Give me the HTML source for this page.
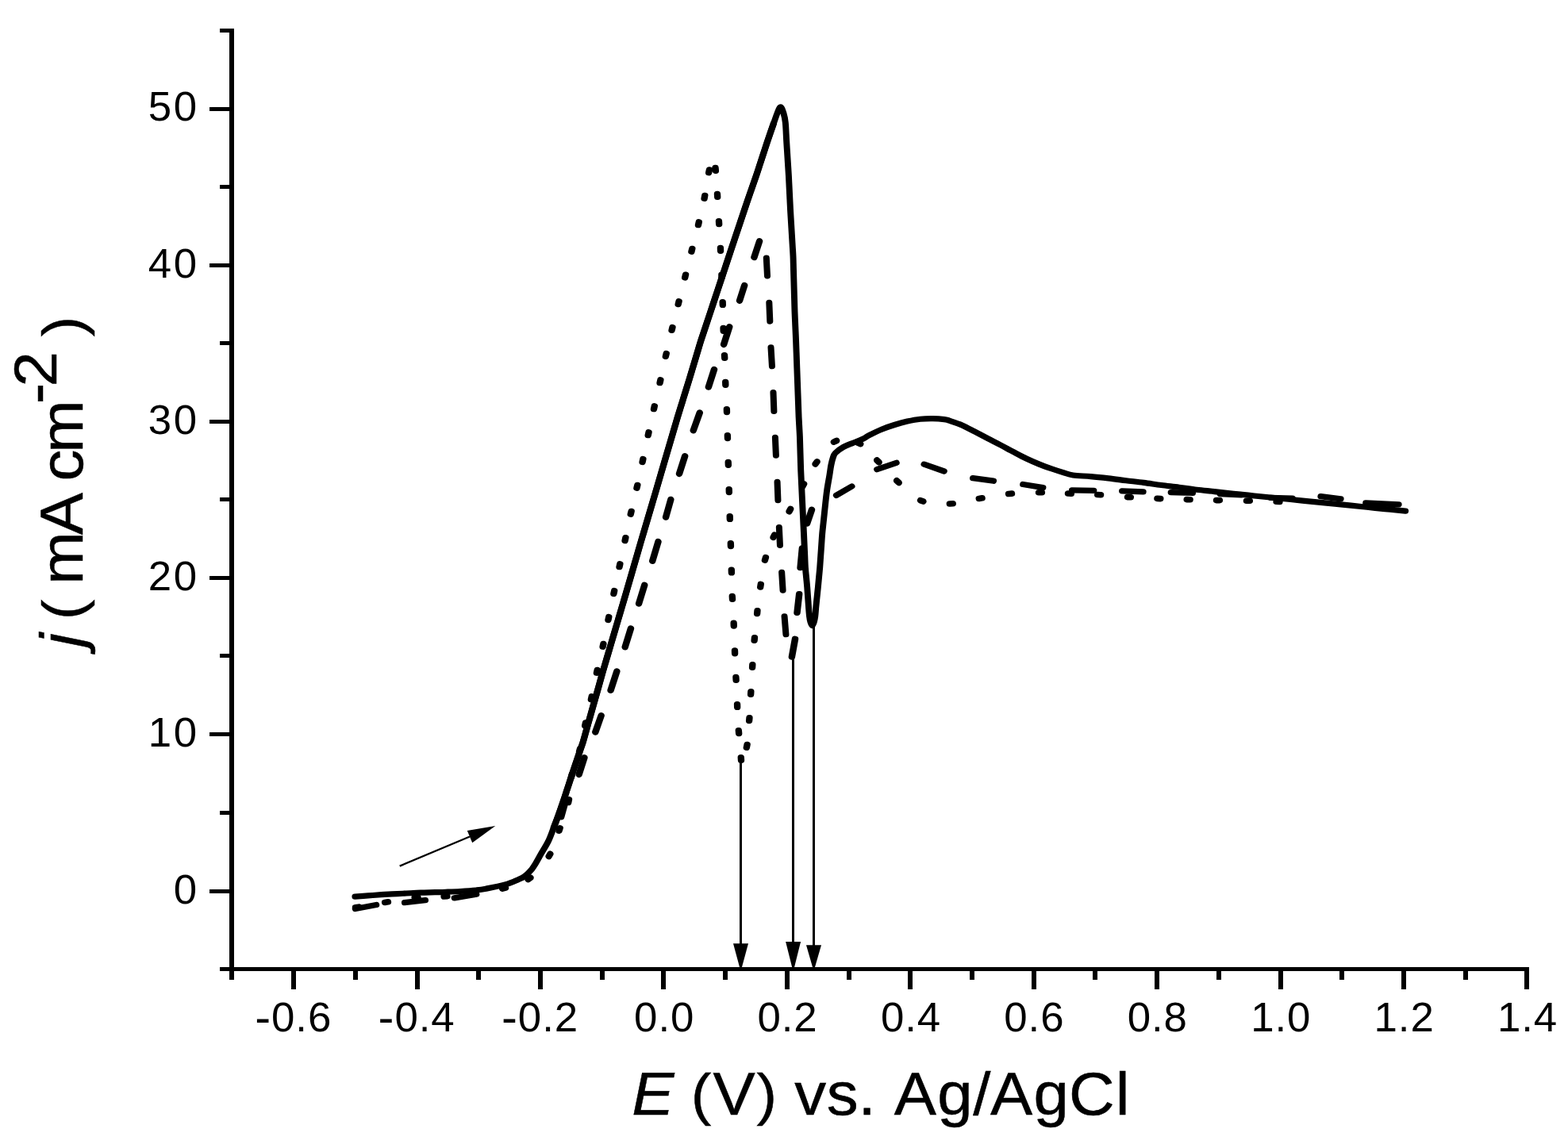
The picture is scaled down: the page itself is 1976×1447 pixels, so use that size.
<!DOCTYPE html>
<html lang="en">
<head>
<meta charset="utf-8">
<title>Voltammogram</title>
<style>
html,body{margin:0;padding:0;background:#fff;}
body{width:1976px;height:1447px;overflow:hidden;}
svg{display:block;}
text{white-space:pre;}
</style>
</head>
<body>
<svg width="1976" height="1447" viewBox="0 0 1976 1447">
<rect x="0" y="0" width="1976" height="1447" fill="#fff"/>
<g id="axes" fill="#000" stroke="none" shape-rendering="crispEdges">
<rect x="289" y="36" width="6" height="1188"/>
<rect x="277" y="1219" width="1650" height="5"/>
<rect x="277" y="36" width="15" height="5"/>
<rect x="264" y="135" width="28" height="5"/>
<rect x="277" y="233" width="15" height="5"/>
<rect x="264" y="332" width="28" height="5"/>
<rect x="277" y="430" width="15" height="5"/>
<rect x="264" y="529" width="28" height="5"/>
<rect x="277" y="627" width="15" height="5"/>
<rect x="264" y="726" width="28" height="5"/>
<rect x="277" y="824" width="15" height="5"/>
<rect x="264" y="923" width="28" height="5"/>
<rect x="277" y="1022" width="15" height="5"/>
<rect x="264" y="1121" width="28" height="5"/>
<rect x="289" y="1221" width="6" height="14"/>
<rect x="367" y="1221" width="6" height="26"/>
<rect x="445" y="1221" width="6" height="14"/>
<rect x="523" y="1221" width="6" height="26"/>
<rect x="600" y="1221" width="6" height="14"/>
<rect x="678" y="1221" width="6" height="26"/>
<rect x="756" y="1221" width="6" height="14"/>
<rect x="833" y="1221" width="6" height="26"/>
<rect x="911" y="1221" width="6" height="14"/>
<rect x="989" y="1221" width="6" height="26"/>
<rect x="1067" y="1221" width="6" height="14"/>
<rect x="1144" y="1221" width="6" height="26"/>
<rect x="1222" y="1221" width="6" height="14"/>
<rect x="1300" y="1221" width="6" height="26"/>
<rect x="1377" y="1221" width="6" height="14"/>
<rect x="1455" y="1221" width="6" height="26"/>
<rect x="1533" y="1221" width="6" height="14"/>
<rect x="1611" y="1221" width="6" height="26"/>
<rect x="1688" y="1221" width="6" height="14"/>
<rect x="1766" y="1221" width="6" height="26"/>
<rect x="1844" y="1221" width="6" height="14"/>
<rect x="1921" y="1221" width="6" height="26"/>
</g>
<g id="ticklabels" font-family="'Liberation Sans', Arial, Helvetica, sans-serif" font-size="51.3px" fill="#000">
<text transform="translate(193.40,1138.50) scale(1.03,1)" x="24.57" y="0">0</text>
<text transform="translate(161.50,941.26) scale(1.03,1)" x="24.57 55.54" y="0">10</text>
<text transform="translate(161.50,744.02) scale(1.03,1)" x="24.57 55.54" y="0">20</text>
<text transform="translate(161.50,546.78) scale(1.03,1)" x="24.57 55.54" y="0">30</text>
<text transform="translate(161.50,349.54) scale(1.03,1)" x="24.57 55.54" y="0">40</text>
<text transform="translate(161.50,152.30) scale(1.03,1)" x="24.57 55.54" y="0">50</text>
<text transform="translate(291.12,1300.1) scale(1.03,1)" x="29.18 49.45 78.87 93.97" y="0"><tspan font-size="58.0px" dy="1.98">-</tspan><tspan dy="-1.98">0.6</tspan></text>
<text transform="translate(446.53,1300.1) scale(1.03,1)" x="29.18 49.45 78.87 93.97" y="0"><tspan font-size="58.0px" dy="1.98">-</tspan><tspan dy="-1.98">0.4</tspan></text>
<text transform="translate(601.94,1300.1) scale(1.03,1)" x="29.18 49.45 78.87 93.97" y="0"><tspan font-size="58.0px" dy="1.98">-</tspan><tspan dy="-1.98">0.2</tspan></text>
<text transform="translate(773.78,1300.10) scale(1.03,1)" x="24.57 53.99 69.08" y="0">0.0</text>
<text transform="translate(929.19,1300.10) scale(1.03,1)" x="24.57 53.99 69.08" y="0">0.2</text>
<text transform="translate(1084.60,1300.10) scale(1.03,1)" x="24.57 53.99 69.08" y="0">0.4</text>
<text transform="translate(1240.01,1300.10) scale(1.03,1)" x="24.57 53.99 69.08" y="0">0.6</text>
<text transform="translate(1395.42,1300.10) scale(1.03,1)" x="24.57 53.99 69.08" y="0">0.8</text>
<text transform="translate(1550.83,1300.10) scale(1.03,1)" x="24.57 53.99 69.08" y="0">1.0</text>
<text transform="translate(1706.24,1300.10) scale(1.03,1)" x="24.57 53.99 69.08" y="0">1.2</text>
<text transform="translate(1861.65,1300.10) scale(1.03,1)" x="24.57 53.99 69.08" y="0">1.4</text>
</g>
<g id="titles" font-family="'Liberation Sans', Arial, Helvetica, sans-serif" font-size="76.0px" fill="#000" stroke="#000" stroke-width="0.5">
<text transform="translate(790.0,1404.8) scale(1.05,1)"><tspan x="5.99 56.68" y="0.0" font-style="italic">E </tspan><tspan x="76.84" y="-0.78" font-size="73.0px">(</tspan><tspan x="103.27" y="0.0">V</tspan><tspan x="155.70 180.01" y="-0.78" font-size="73.0px">) </tspan><tspan x="201.29 239.79 277.59 298.70 320.80 372.62 415.49 436.13 488.10 530.55 586.35" y="0.0">vs. Ag/AgCl</tspan></text>
<text transform="translate(104.4,840.0) rotate(-90) scale(1.05,1)"><tspan x="23.13 40.01" y="0.0" font-style="italic">j </tspan><tspan x="56.08 80.39" y="-0.78" font-size="73.0px">( </tspan><tspan x="98.28 157.89 208.58 222.44 256.52" y="0.0">mA cm</tspan><tspan x="314.92 335.82 378.09" y="-33.4">-2 </tspan><tspan x="395.94" y="-0.78" font-size="73.0px">)</tspan></text>
</g>
<g id="curves" transform="scale(1.1,1)" fill="none" stroke="#000" stroke-width="7.2" stroke-linecap="round" stroke-linejoin="round">
<path id="dotted" stroke-width="7.6" d="M407.3,1143.8L410.9,1143.2M441.0,1137.4L444.5,1136.8M475.1,1131.4L478.7,1131.0M508.7,1130.0L512.2,1129.6M541.9,1125.3L545.4,1124.7M575.6,1120.1L579.1,1119.1M605.0,1108.5L607.8,1106.3M628.7,1079.5L630.4,1076.3M640.5,1047.2L641.5,1043.8M651.1,1011.4L651.8,1007.8M654.5,979.8L655.2,976.2M663.7,947.2L664.5,943.8M670.2,914.6L670.9,911.0M677.2,881.5L677.9,877.9M683.6,848.1L684.3,844.5M690.6,815.1L691.3,811.5M696.8,781.3L697.5,777.7M703.1,748.3L703.8,744.7M709.6,714.5L710.3,710.9M716.0,681.4L716.7,677.8M722.5,648.1L723.3,644.5M729.5,615.1L730.3,611.5M736.0,582.3L736.7,578.7M742.5,548.5L743.2,544.9M749.1,515.5L749.8,511.9M756.0,482.5L756.7,478.9M762.6,449.2L763.4,445.6M769.6,416.2L770.4,412.6M777.0,383.5L777.8,379.9M784.7,349.9L785.5,346.3M792.2,317.1L793.0,313.5M800.0,283.5L800.7,279.9M806.9,250.1L807.5,246.5M812.0,217.6L812.7,214.0M819.6,211.6L819.9,215.2M821.8,244.6L822.0,248.2M823.6,278.9L823.8,282.5M825.4,312.5L825.5,316.1M826.7,346.3L826.8,349.9M827.9,380.7L828.0,384.3M828.7,413.6L828.8,417.2M830.0,447.7L830.2,451.3M831.1,481.5L831.2,485.1M832.6,515.9L832.7,519.5M833.5,548.9L833.6,552.5M834.3,582.6L834.4,586.2M835.2,616.9L835.3,620.5M836.1,650.7L836.2,654.3M837.1,684.8L837.2,688.4M838.0,718.2L838.1,721.8M838.9,751.6L839.1,755.2M840.6,785.4L840.7,789.0M841.8,820.0L841.9,823.6M843.1,853.6L843.3,857.2M844.6,887.7L844.7,891.3M846.2,920.8L846.5,924.4M848.9,954.7L849.1,958.3M855.3,942.2L856.0,938.6M858.3,908.5L858.6,904.9M860.1,875.3L860.3,871.7M861.9,841.3L862.1,837.7M864.2,807.3L864.5,803.7M867.4,773.4L867.7,769.8M871.1,740.0L871.6,736.4M876.3,706.1L877.2,702.7M885.9,677.4L887.4,674.2M904.1,644.7L905.7,641.5M919.5,613.1L921.1,609.9M934.1,584.9L936.1,581.9M955.2,557.1L958.4,555.5M982.6,558.0L985.8,559.6M1004.6,580.1L1007.0,582.7M1027.3,605.8L1029.8,608.4M1054.5,630.7L1057.7,632.1M1088.0,635.0L1091.6,634.8M1121.6,628.4L1125.1,627.8M1155.5,622.5L1159.1,622.1M1190.0,620.8L1193.6,620.8M1223.6,622.0L1227.2,622.2M1257.4,623.5L1261.0,623.7M1291.8,626.6L1295.3,626.8M1325.8,628.4L1329.4,628.6M1359.7,629.6L1363.3,629.8M1393.6,630.6L1397.2,630.6M1428.1,631.2L1431.7,631.2M1462.3,632.3L1465.9,632.5"/>
<path id="dashed" stroke-width="7.3" d="M407.1,1145.5L431.1,1140.5M463.6,1137.7L487.3,1134.7M520.6,1131.8L545.8,1127.2M878.0,325.1L879.1,347.8M881.2,381.3L882.1,405.0M883.2,438.0L884.5,461.7M885.9,494.7L886.7,518.4M888.1,551.4L889.0,574.1M890.5,607.5L891.3,630.7M892.6,664.7L893.6,687.3M895.6,721.3L896.9,744.0M898.7,777.0L900.4,799.7M958.1,624.4L975.9,613.0M1004.7,591.7L1027.0,583.3M1058.6,585.2L1081.6,594.0M1114.6,602.6L1138.2,606.2M1172.0,610.5L1194.9,614.6M1228.1,617.8L1253.1,618.3M1285.5,618.8L1309.7,619.8M1341.5,620.6L1366.4,621.3M1397.9,622.5L1422.1,623.8M1455.7,627.4L1480.7,628.2M1513.1,625.7L1536.0,628.8M1564.7,634.0L1602.4,635.8"/>
<path id="dashed-rise" stroke-width="7.7" d="M648.3,1008.2L642.9,1029.5M669.5,954.9L663.3,976.2M688.8,901.9L682.1,922.8M706.7,846.2L699.6,870.1M722.7,792.1L716.1,815.5M738.4,737.5L731.9,760.8M754.1,682.8L747.5,707.1M768.5,629.6L762.8,651.9M784.7,574.9L778.2,597.2M801.6,520.2L794.3,542.6M818.2,465.6L811.7,487.9M835.7,411.9L829.2,434.2M852.9,359.7L847.3,379.0M870.1,304.0L864.0,324.3M910.9,805.5L907.2,827.9M915.6,748.8L913.2,772.2M919.0,691.1L916.9,715.5M930.0,642.5L924.6,659.8"/>
<path id="solid" d="M406.727,1130.100C409.235,1129.900 416.758,1129.300 421.773,1128.900C426.788,1128.500 432.265,1128.022 436.818,1127.700C441.371,1127.378 445.000,1127.211 449.091,1126.967C453.182,1126.722 457.273,1126.478 461.364,1126.233C465.455,1125.989 469.545,1125.689 473.636,1125.500C477.727,1125.311 481.818,1125.233 485.909,1125.100C490.000,1124.967 494.091,1124.833 498.182,1124.700C502.273,1124.567 505.606,1124.500 510.455,1124.300C515.303,1124.100 521.439,1123.883 527.273,1123.500C533.106,1123.117 540.545,1122.550 545.455,1122.000C550.364,1121.450 551.167,1121.383 556.727,1120.200C562.288,1119.017 572.682,1116.817 578.818,1114.900C584.955,1112.983 589.864,1110.417 593.545,1108.700C597.227,1106.983 598.455,1106.567 600.909,1104.600C603.364,1102.633 606.076,1099.750 608.273,1096.900C610.470,1094.050 612.197,1090.867 614.091,1087.500C615.985,1084.133 617.303,1081.200 619.636,1076.700C621.970,1072.200 625.697,1065.900 628.091,1060.500C630.485,1055.100 632.091,1049.700 634.000,1044.300C635.909,1038.900 637.545,1034.200 639.545,1028.100C641.545,1022.000 644.323,1013.128 646.000,1007.700C647.677,1002.272 648.404,999.589 649.606,995.533C650.808,991.478 652.010,987.422 653.212,983.367C654.414,979.311 655.591,975.256 656.818,971.200C658.045,967.144 659.323,963.089 660.576,959.033C661.828,954.978 663.081,950.922 664.333,946.867C665.586,942.811 666.838,939.183 668.091,934.700C669.343,930.217 670.596,924.878 671.848,919.967C673.101,915.056 674.354,910.144 675.606,905.233C676.859,900.322 677.859,896.339 679.364,890.500C680.869,884.661 682.909,876.950 684.636,870.200C686.364,863.450 688.314,855.471 689.727,850.000C691.140,844.529 691.985,841.583 693.114,837.375C694.242,833.167 695.371,828.958 696.500,824.750C697.629,820.542 698.758,816.333 699.886,812.125C701.015,807.917 702.144,803.708 703.273,799.500C704.402,795.292 705.530,791.083 706.659,786.875C707.788,782.667 708.917,778.458 710.045,774.250C711.174,770.042 712.303,765.833 713.432,761.625C714.561,757.417 715.681,753.274 716.818,749.000C717.955,744.726 719.109,740.320 720.255,735.980C721.400,731.640 722.545,727.300 723.691,722.960C724.836,718.620 725.982,714.280 727.127,709.940C728.273,705.600 729.418,701.260 730.564,696.920C731.709,692.580 732.870,688.147 734.000,683.900C735.130,679.653 736.230,675.593 737.345,671.440C738.461,667.287 739.576,663.133 740.691,658.980C741.806,654.827 742.921,650.673 744.036,646.520C745.152,642.367 746.267,638.213 747.382,634.060C748.497,629.907 749.639,625.673 750.727,621.600C751.815,617.528 752.848,613.617 753.909,609.625C754.970,605.633 756.030,601.642 757.091,597.650C758.152,593.658 759.212,589.667 760.273,585.675C761.333,581.683 762.390,577.692 763.455,573.700C764.519,569.708 765.591,565.717 766.659,561.725C767.727,557.733 768.795,553.742 769.864,549.750C770.932,545.758 772.000,541.767 773.068,537.775C774.136,533.783 775.178,529.792 776.273,525.800C777.367,521.808 778.515,517.817 779.636,513.825C780.758,509.833 781.879,505.842 783.000,501.850C784.121,497.858 785.242,493.867 786.364,489.875C787.485,485.883 788.621,481.892 789.727,477.900C790.833,473.908 791.909,469.917 793.000,465.925C794.091,461.933 795.182,457.942 796.273,453.950C797.364,449.958 798.455,445.967 799.545,441.975C800.636,437.983 801.652,434.051 802.818,430.000C803.985,425.949 805.303,421.778 806.545,417.667C807.788,413.556 809.030,409.444 810.273,405.333C811.515,401.222 812.707,397.286 814.000,393.000C815.293,388.714 816.687,384.078 818.030,379.617C819.374,375.156 820.717,370.694 822.061,366.233C823.404,361.772 824.747,357.311 826.091,352.850C827.434,348.389 828.778,343.928 830.121,339.467C831.465,335.006 832.808,330.544 834.152,326.083C835.495,321.622 836.913,316.891 838.182,312.700C839.451,308.509 840.570,304.860 841.764,300.940C842.958,297.020 844.152,293.100 845.345,289.180C846.539,285.260 847.733,281.340 848.927,277.420C850.121,273.500 851.315,269.580 852.509,265.660C853.703,261.740 854.638,258.568 856.091,253.900C857.544,249.232 859.515,243.067 861.227,237.650C862.939,232.233 864.770,226.586 866.364,221.400C867.957,216.214 869.313,211.489 870.788,206.533C872.263,201.578 873.737,196.622 875.212,191.667C876.687,186.711 877.732,182.994 879.636,176.800C881.540,170.606 884.818,160.217 886.636,154.500C888.455,148.783 889.273,145.783 890.545,142.500C891.818,139.217 893.091,134.800 894.273,134.800C895.455,134.800 896.712,139.217 897.636,142.500C898.561,145.783 899.258,148.783 899.818,154.500C900.379,160.217 900.662,170.606 901.000,176.800C901.338,182.994 901.566,186.711 901.848,191.667C902.131,196.622 902.414,201.578 902.697,206.533C902.980,211.489 903.293,216.450 903.545,221.400C903.798,226.350 903.990,231.289 904.212,236.233C904.434,241.178 904.657,246.122 904.879,251.067C905.101,256.011 905.306,261.057 905.545,265.900C905.785,270.743 906.061,275.383 906.318,280.125C906.576,284.867 906.833,289.608 907.091,294.350C907.348,299.092 907.606,303.833 907.864,308.575C908.121,313.317 908.447,318.089 908.636,322.800C908.826,327.511 908.879,332.160 909.000,336.840C909.121,341.520 909.242,346.200 909.364,350.880C909.485,355.560 909.606,360.240 909.727,364.920C909.848,369.600 909.970,374.280 910.091,378.960C910.212,383.640 910.313,388.604 910.455,393.000C910.596,397.396 910.778,401.222 910.939,405.333C911.101,409.444 911.263,413.556 911.424,417.667C911.586,421.778 911.753,425.663 911.909,430.000C912.066,434.337 912.212,439.124 912.364,443.686C912.515,448.248 912.667,452.810 912.818,457.371C912.970,461.933 913.121,466.495 913.273,471.057C913.424,475.619 913.576,480.181 913.727,484.743C913.879,489.305 914.030,493.867 914.182,498.429C914.333,502.990 914.485,507.552 914.636,512.114C914.788,516.676 914.917,521.502 915.091,525.800C915.265,530.098 915.485,533.867 915.682,537.900C915.879,541.933 916.109,545.617 916.273,550.000C916.437,554.383 916.535,559.467 916.667,564.200C916.798,568.933 916.929,573.667 917.061,578.400C917.192,583.133 917.298,588.100 917.455,592.600C917.611,597.100 917.818,601.133 918.000,605.400C918.182,609.667 918.364,613.933 918.545,618.200C918.727,622.467 918.899,626.556 919.091,631.000C919.283,635.444 919.495,640.244 919.697,644.867C919.899,649.489 920.101,654.111 920.303,658.733C920.505,663.356 920.712,667.922 920.909,672.600C921.106,677.278 921.293,682.067 921.485,686.800C921.677,691.533 921.869,696.267 922.061,701.000C922.253,705.733 922.366,710.767 922.636,715.200C922.907,719.633 923.333,723.467 923.682,727.600C924.030,731.733 924.417,735.850 924.727,740.000C925.038,744.150 925.273,748.333 925.545,752.500C925.818,756.667 926.076,761.000 926.364,765.000C926.652,769.000 926.909,773.333 927.273,776.500C927.636,779.667 928.000,781.983 928.545,784.000C929.091,786.017 929.879,788.600 930.545,788.600C931.212,788.600 931.985,786.017 932.545,784.000C933.106,781.983 933.530,779.667 933.909,776.500C934.288,773.333 934.470,769.000 934.818,765.000C935.167,761.000 935.606,756.667 936.000,752.500C936.394,748.333 936.811,744.150 937.182,740.000C937.553,735.850 937.879,731.733 938.227,727.600C938.576,723.467 938.947,719.633 939.273,715.200C939.598,710.767 939.879,705.733 940.182,701.000C940.485,696.267 940.788,691.533 941.091,686.800C941.394,682.067 941.636,677.189 942.000,672.600C942.364,668.011 942.848,663.711 943.273,659.267C943.697,654.822 944.121,650.378 944.545,645.933C944.970,641.489 945.318,637.439 945.818,632.600C946.318,627.761 946.788,622.550 947.545,616.900C948.303,611.250 949.606,603.767 950.364,598.700C951.121,593.633 951.455,590.050 952.091,586.500C952.727,582.950 953.364,579.983 954.182,577.400C955.000,574.817 954.970,573.333 957.000,571.000C959.030,568.667 962.955,565.533 966.364,563.400C969.773,561.267 973.773,559.883 977.455,558.200C981.136,556.517 985.485,554.850 988.455,553.300C991.424,551.750 991.682,550.917 995.273,548.900C998.864,546.883 1005.091,543.433 1010.000,541.200C1014.909,538.967 1019.818,537.183 1024.727,535.500C1029.636,533.817 1034.545,532.317 1039.455,531.100C1044.364,529.883 1049.288,528.783 1054.182,528.200C1059.076,527.617 1064.212,527.533 1068.818,527.600C1073.424,527.667 1078.712,528.167 1081.818,528.600C1084.924,529.033 1084.061,528.983 1087.455,530.200C1090.848,531.417 1097.273,533.567 1102.182,535.900C1107.091,538.233 1112.000,541.400 1116.909,544.200C1121.818,547.000 1126.727,549.900 1131.636,552.700C1136.545,555.500 1141.455,558.167 1146.364,561.000C1151.273,563.833 1156.182,566.867 1161.091,569.700C1166.000,572.533 1170.909,575.433 1175.818,578.000C1180.727,580.567 1185.652,582.933 1190.545,585.100C1195.439,587.267 1200.576,589.250 1205.182,591.000C1209.788,592.750 1214.152,594.267 1218.182,595.600C1222.212,596.933 1224.136,598.167 1229.364,599.000C1234.591,599.833 1242.803,599.950 1249.545,600.600C1256.288,601.250 1263.061,602.050 1269.818,602.900C1276.576,603.750 1283.333,604.783 1290.091,605.700C1296.848,606.617 1303.621,607.433 1310.364,608.400C1317.106,609.367 1323.803,610.533 1330.545,611.500C1337.288,612.467 1344.061,613.233 1350.818,614.200C1357.576,615.167 1364.348,616.400 1371.091,617.300C1377.833,618.200 1384.939,618.833 1391.273,619.600C1397.606,620.367 1403.798,621.261 1409.091,621.900C1414.384,622.539 1418.384,622.922 1423.030,623.433C1427.677,623.944 1432.323,624.456 1436.970,624.967C1441.616,625.478 1446.283,625.991 1450.909,626.500C1455.535,627.009 1460.121,627.513 1464.727,628.020C1469.333,628.527 1473.939,629.033 1478.545,629.540C1483.152,630.047 1487.758,630.553 1492.364,631.060C1496.970,631.567 1501.576,632.073 1506.182,632.580C1510.788,633.087 1515.390,633.588 1520.000,634.100C1524.610,634.612 1529.227,635.133 1533.841,635.650C1538.455,636.167 1543.068,636.683 1547.682,637.200C1552.295,637.717 1556.909,638.233 1561.523,638.750C1566.136,639.267 1570.155,639.725 1575.364,640.300C1580.572,640.875 1586.970,641.567 1592.773,642.200C1598.576,642.833 1607.280,643.783 1610.182,644.100"/>
<path id="solid-rise" stroke-width="7.5" stroke-linecap="butt" d="M634.000,1044.300C634.924,1041.600 637.545,1034.200 639.545,1028.100C641.545,1022.000 644.323,1013.128 646.000,1007.700C647.677,1002.272 648.404,999.589 649.606,995.533C650.808,991.478 652.010,987.422 653.212,983.367C654.414,979.311 655.591,975.256 656.818,971.200C658.045,967.144 659.323,963.089 660.576,959.033C661.828,954.978 663.081,950.922 664.333,946.867C665.586,942.811 666.838,939.183 668.091,934.700C669.343,930.217 670.596,924.878 671.848,919.967C673.101,915.056 674.354,910.144 675.606,905.233C676.859,900.322 677.859,896.339 679.364,890.500C680.869,884.661 682.909,876.950 684.636,870.200C686.364,863.450 688.314,855.471 689.727,850.000C691.140,844.529 691.985,841.583 693.114,837.375C694.242,833.167 695.371,828.958 696.500,824.750C697.629,820.542 698.758,816.333 699.886,812.125C701.015,807.917 702.144,803.708 703.273,799.500C704.402,795.292 705.530,791.083 706.659,786.875C707.788,782.667 708.917,778.458 710.045,774.250C711.174,770.042 712.303,765.833 713.432,761.625C714.561,757.417 715.681,753.274 716.818,749.000C717.955,744.726 719.109,740.320 720.255,735.980C721.400,731.640 722.545,727.300 723.691,722.960C724.836,718.620 725.982,714.280 727.127,709.940C728.273,705.600 729.418,701.260 730.564,696.920C731.709,692.580 732.870,688.147 734.000,683.900C735.130,679.653 736.230,675.593 737.345,671.440C738.461,667.287 739.576,663.133 740.691,658.980C741.806,654.827 742.921,650.673 744.036,646.520C745.152,642.367 746.267,638.213 747.382,634.060C748.497,629.907 749.639,625.673 750.727,621.600C751.815,617.528 752.848,613.617 753.909,609.625C754.970,605.633 756.030,601.642 757.091,597.650C758.152,593.658 759.212,589.667 760.273,585.675C761.333,581.683 762.390,577.692 763.455,573.700C764.519,569.708 765.591,565.717 766.659,561.725C767.727,557.733 768.795,553.742 769.864,549.750C770.932,545.758 772.000,541.767 773.068,537.775C774.136,533.783 775.178,529.792 776.273,525.800C777.367,521.808 778.515,517.817 779.636,513.825C780.758,509.833 781.879,505.842 783.000,501.850C784.121,497.858 785.242,493.867 786.364,489.875C787.485,485.883 788.621,481.892 789.727,477.900C790.833,473.908 791.909,469.917 793.000,465.925C794.091,461.933 795.182,457.942 796.273,453.950C797.364,449.958 798.455,445.967 799.545,441.975C800.636,437.983 801.652,434.051 802.818,430.000C803.985,425.949 805.303,421.778 806.545,417.667C807.788,413.556 809.030,409.444 810.273,405.333C811.515,401.222 812.707,397.286 814.000,393.000C815.293,388.714 816.687,384.078 818.030,379.617C819.374,375.156 820.717,370.694 822.061,366.233C823.404,361.772 824.747,357.311 826.091,352.850C827.434,348.389 828.778,343.928 830.121,339.467C831.465,335.006 832.808,330.544 834.152,326.083C835.495,321.622 836.913,316.891 838.182,312.700C839.451,308.509 840.570,304.860 841.764,300.940C842.958,297.020 844.152,293.100 845.345,289.180C846.539,285.260 847.733,281.340 848.927,277.420C850.121,273.500 851.315,269.580 852.509,265.660C853.703,261.740 854.638,258.568 856.091,253.900C857.544,249.232 859.515,243.067 861.227,237.650C862.939,232.233 864.770,226.586 866.364,221.400C867.957,216.214 869.313,211.489 870.788,206.533C872.263,201.578 873.737,196.622 875.212,191.667C876.687,186.711 877.732,182.994 879.636,176.800C881.540,170.606 885.470,158.217 886.636,154.500"/>
</g>
<g id="arrows" fill="#000" stroke="#000">
<rect x="932.05" y="956" width="2.9" height="234.3" stroke="none" shape-rendering="crispEdges"/>
<path d="M924.0,1189.3L943.0,1189.3L934.7,1220L932.3,1220Z" stroke="none"/>
<rect x="998.15" y="829" width="2.9" height="359.0" stroke="none" shape-rendering="crispEdges"/>
<path d="M990.1,1187.0L1009.1,1187.0L1000.8,1220L998.4,1220Z" stroke="none"/>
<rect x="1024.05" y="788" width="2.9" height="404.2" stroke="none" shape-rendering="crispEdges"/>
<path d="M1016.0,1191.2L1035.0,1191.2L1026.7,1220L1024.3,1220Z" stroke="none"/>
<path d="M503.7,1091.6L592.0,1054.5" stroke-width="2.4" fill="none"/>
<path d="M624.3,1041.0L595.2,1062.2L588.8,1046.9Z" stroke="none"/>
</g>
</svg>
</body>
</html>
